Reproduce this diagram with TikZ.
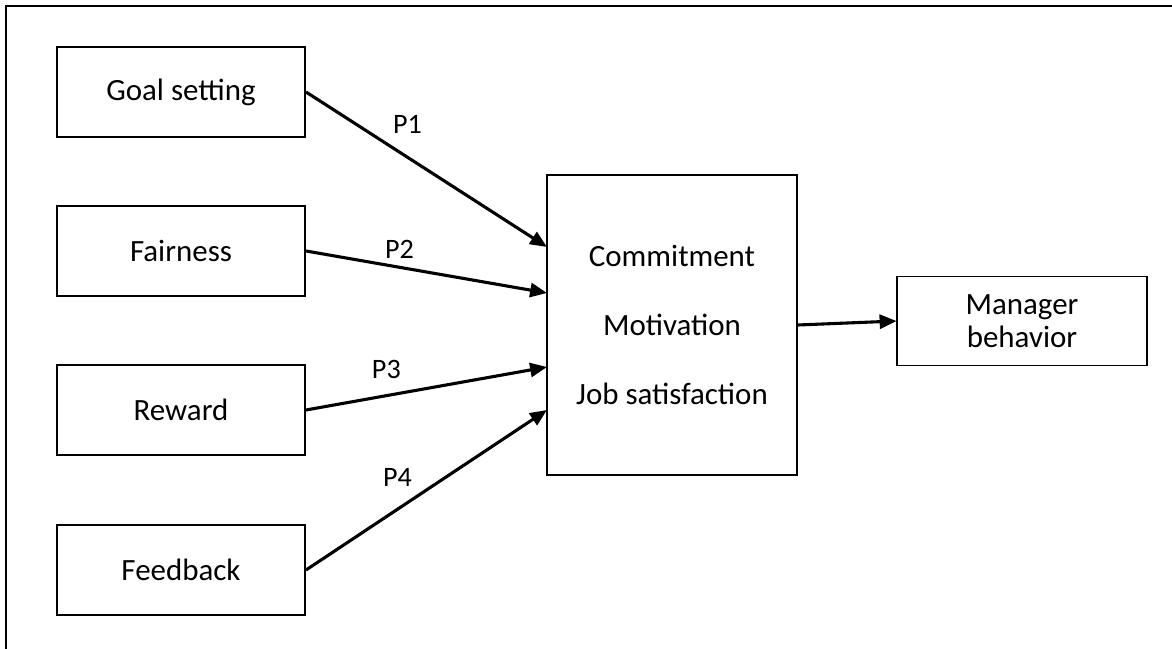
\documentclass[tikz,border=0pt]{standalone}
\usepackage{fontspec}
\setmainfont{Carlito}
\usetikzlibrary{arrows.meta}
\tikzset{
    factor/.style={draw, line width=1.4pt, minimum width=6.2cm, minimum height=2.25cm, font=\fontsize{22}{23.5}\selectfont},
    link/.style={line width=2.2pt, -{Triangle[length=12pt,width=10pt]}},
    plabel/.style={font=\fontsize{20}{22}\selectfont},
}
\begin{document}
\begin{tikzpicture}[x=0.025cm,y=-0.025cm]
        \useasboundingbox (0,0) rectangle (1172,649);
        \draw[line width=2pt] (6,649) -- (6,6) -- (1172,6);
        \foreach \x/\y/\n/\l in {181/92/goal/Goal setting,181/251/fair/Fairness,181/410/reward/Reward,181/570/feed/Feedback}{
            \node[factor] (\n) at (\x,\y) {\l};
        }
        \node[factor, minimum width=6.25cm, minimum height=7.5cm, align=center, font=\fontsize{22}{49}\selectfont] (core) at (672,325) {Commitment\\Motivation\\Job satisfaction};
        \node[factor, minimum width=6.225cm, minimum height=2.225cm, align=center] (mgr) at (1022,321) {Manager\\behavior};
        \foreach \n/\y in {in1/247,in2/293,in3/367,in4/410}{
            \coordinate (\n) at (547,\y);
        }
        \foreach \m/\n/\l/\dx/\dy in {goal/in1/P1/0.25cm/0.65cm,fair/in2/P2/0.05cm/0.45cm,reward/in3/P3/-0.28cm/0.6cm,feed/in4/P4/0cm/0.8cm}{
            \draw[link] (\m.east) -- node[plabel, pos=0.38, xshift=\dx, yshift=\dy]{\l} (\n);
        }
        \draw[link] (core.east) -- (mgr.west);
    \end{tikzpicture}
\end{document}
